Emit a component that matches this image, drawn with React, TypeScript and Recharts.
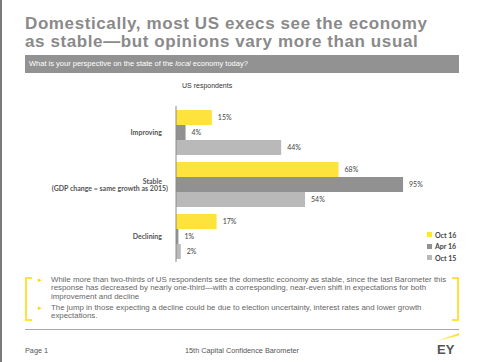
import { BarChart, Bar, XAxis, YAxis, LabelList } from "recharts";

const categories = ["Improving", "Stable", "Declining"];
const subLabels = ["", "(GDP change = same growth as 2015)", ""];
const oct16 = [15, 68, 17];
const apr16 = [4, 95, 1];
const oct15 = [44, 54, 2];

const data = categories.map((name, i) => ({
  name,
  oct16: oct16[i],
  apr16: apr16[i],
  oct15: oct15[i],
}));

const series = [
  { key: "oct16", label: "Oct 16", color: "#FFE33D" },
  { key: "apr16", label: "Apr 16", color: "#919191" },
  { key: "oct15", label: "Oct 15", color: "#B9B9B9" },
];

const bullets = [
  [
    "While more than two-thirds of US respondents see the domestic economy as stable, since the last Barometer this",
    "response has decreased by nearly one-third\u2014with a corresponding, near-even shift in expectations for both",
    "improvement and decline",
  ],
  [
    "The jump in those expecting a decline could be due to election uncertainty, interest rates and lower growth",
    "expectations.",
  ],
];

const catFont = "Lato, 'Open Sans', sans-serif";

const CategoryTick = (props: any) => {
  const { x, y, payload, index } = props;
  const sub = subLabels[index];
  return (
    <g>
      <text
        x={x - 6}
        y={y}
        dy={sub ? 0 : 2.5}
        textAnchor="end"
        fontFamily={catFont}
        fontSize={7}
        fontWeight={700}
        fill="#555"
      >
        {payload.value}
      </text>
      {sub && (
        <text
          x={x}
          y={y + 7}
          textAnchor="end"
          fontFamily={catFont}
          fontSize={7}
          fontWeight={700}
          fill="#555"
        >
          {sub}
        </text>
      )}
    </g>
  );
};

const LegendBox = () => (
  <div
    style={{
      position: "absolute",
      left: 427,
      top: 229,
      fontFamily: catFont,
      fontSize: 7,
      fontWeight: 700,
      color: "#444",
    }}
  >
    {series.map((s) => (
      <div key={s.key} style={{ display: "flex", alignItems: "center", height: 11.5 }}>
        <span style={{ width: 5, height: 5, background: s.color, marginRight: 3 }} />
        {s.label}
      </div>
    ))}
  </div>
);

const EYLogo = () => (
  <svg width={26} height={26} style={{ position: "absolute", left: 435, top: 331 }}>
    <polygon points="2,10 24,2 24,4.5" fill="#FFE33D" />
    <text x={2} y={23} fontFamily="Arial, sans-serif" fontSize={13} fontWeight={700} fill="#555">
      EY
    </text>
  </svg>
);

const titleStyle = {
  position: "absolute" as const,
  left: 25,
  fontSize: 17,
  lineHeight: "17px",
  fontWeight: 700,
  letterSpacing: 0.6,
  color: "#8a8a8a",
  whiteSpace: "nowrap" as const,
};

const App = () => {
  return (
    <div
      style={{
        position: "absolute",
        left: 0,
        top: 0,
        width: 483,
        height: 362,
        background: "#fff",
        overflow: "hidden",
        fontFamily: "Arial, 'Liberation Sans', sans-serif",
      }}
    >
      <div style={{ position: "absolute", left: 0, top: 0, width: 2, height: 362, background: "#7a7a7a" }} />
      <div style={{ ...titleStyle, top: 15 }}>Domestically, most US execs see the economy</div>
      <div style={{ ...titleStyle, top: 33 }}>as stable—but opinions vary more than usual</div>
      <div
        style={{
          position: "absolute",
          left: 25,
          top: 55,
          width: 434,
          height: 18,
          background: "#929292",
          color: "#fff",
          fontSize: 7.5,
          lineHeight: "18px",
          paddingLeft: 4,
          boxSizing: "border-box",
        }}
      >
        What is your perspective on the state of the <i>local</i> economy today?
      </div>
      <div style={{ position: "absolute", left: 182, top: 82, fontSize: 7, color: "#333" }}>
        US respondents
      </div>

      <div style={{ position: "absolute", left: 0, top: 0 }}>
        <BarChart
          width={483}
          height={362}
          data={data}
          layout="vertical"
          margin={{ top: 106, right: 68, bottom: 100, left: 0 }}
          barCategoryGap={4}
          barGap={0}
        >
          <XAxis type="number" domain={[0, 100]} hide />
          <YAxis
            type="category"
            dataKey="name"
            width={176}
            tickLine={false}
            axisLine={{ stroke: "#8a8a8a" }}
            tick={<CategoryTick />}
            interval={0}
          />
          {series.map((s) => (
            <Bar key={s.key} dataKey={s.key} name={s.label} fill={s.color} isAnimationActive={false}>
              <LabelList
                dataKey={s.key}
                position="right"
                offset={6}
                formatter={(v: any) => `${v}%`}
                style={{ fontFamily: catFont, fontSize: 7, fill: "#444" }}
              />
            </Bar>
          ))}
        </BarChart>
      </div>
      <LegendBox />

      {/* brackets */}
      <div
        style={{
          position: "absolute",
          left: 25,
          top: 277,
          width: 7,
          height: 44,
          borderLeft: "2px solid #FFE33D",
          borderTop: "2px solid #FFE33D",
          borderBottom: "2px solid #FFE33D",
          boxSizing: "border-box",
        }}
      />
      <div
        style={{
          position: "absolute",
          left: 452,
          top: 277,
          width: 7,
          height: 44,
          borderRight: "2px solid #FFE33D",
          borderTop: "2px solid #FFE33D",
          borderBottom: "2px solid #FFE33D",
          boxSizing: "border-box",
        }}
      />
      <div style={{ position: "absolute", left: 37, top: 275.5, fontSize: 7.9, color: "#666", lineHeight: "8.6px" }}>
        {bullets.map((lines, bi) => (
          <div key={bi} style={{ position: "relative", marginBottom: 2.5 }}>
            <span style={{ position: "absolute", left: 0, top: 0, color: "#FFD400", fontSize: 6 }}>►</span>
            <div style={{ marginLeft: 14, whiteSpace: "nowrap" }}>
              {lines.map((l, li) => (
                <div key={li}>{l}</div>
              ))}
            </div>
          </div>
        ))}
      </div>

      <div style={{ position: "absolute", left: 25, top: 329, width: 434, height: 1, background: "#a8a8a8" }} />
      <div style={{ position: "absolute", left: 25, top: 346, fontSize: 7.3, color: "#555" }}>Page 1</div>
      <div style={{ position: "absolute", left: 185, top: 346, fontSize: 7.3, color: "#555" }}>
        15th Capital Confidence Barometer
      </div>
      <EYLogo />
    </div>
  );
};

export default App;
